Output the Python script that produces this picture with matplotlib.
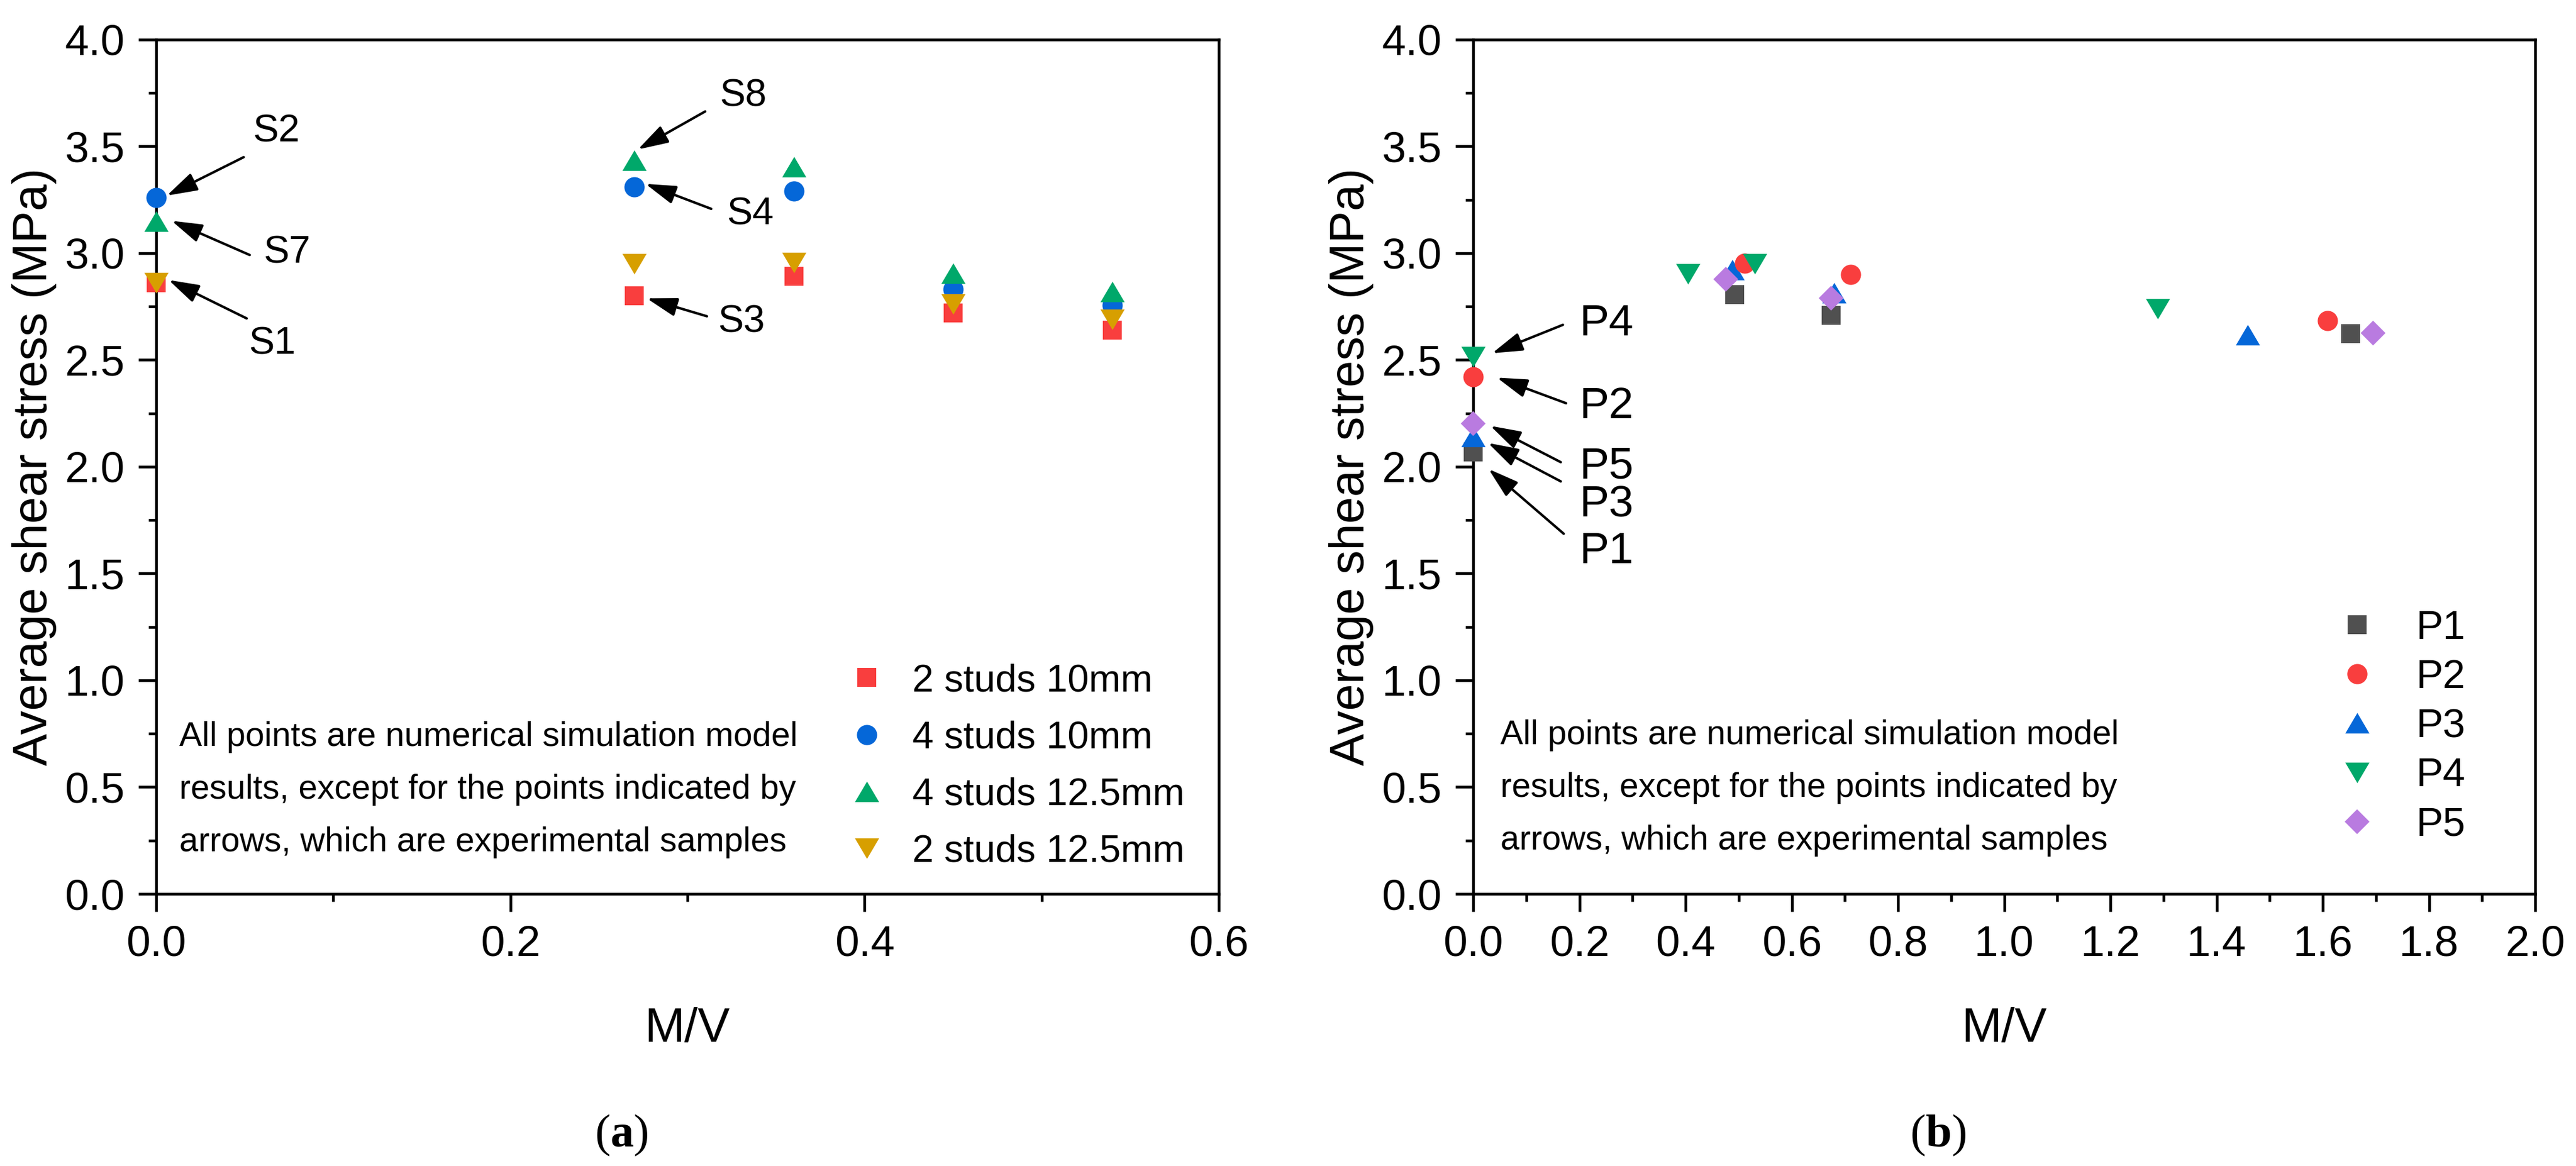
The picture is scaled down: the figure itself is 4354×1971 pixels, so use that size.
import matplotlib
matplotlib.use("Agg")
import matplotlib.pyplot as plt
from matplotlib.path import Path
from matplotlib.ticker import MultipleLocator, FormatStrFormatter

plt.rcParams['font.family'] = ['Liberation Sans', 'DejaVu Sans']
plt.rcParams['mathtext.fontset'] = 'custom'
plt.rcParams['mathtext.rm'] = 'Liberation Serif'
plt.rcParams['mathtext.bf'] = 'Liberation Serif:bold'

# ---------------- data: panel (a) ----------------
mv_a = [0.0, 0.27, 0.36, 0.45, 0.54]
s2_10 = [2.86, 2.80, 2.89, 2.72, 2.64]      # 2 studs 10mm
s4_10 = [3.26, 3.31, 3.29, 2.83, 2.755]     # 4 studs 10mm
s4_125 = [3.15, 3.435, 3.405, 2.905, 2.82]  # 4 studs 12.5mm
s2_125 = [2.86, 2.95, 2.955, 2.76, 2.69]    # 2 studs 12.5mm
labels_a = ['2 studs 10mm', '4 studs 10mm', '4 studs 12.5mm', '2 studs 12.5mm']

# arrows (label, head x, head y, tail x, tail y, text x, text y)
arrows_a = [
    ('S2', 0.006, 3.269, 0.0494, 3.449, 0.0545, 3.569),
    ('S7', 0.0087, 3.151, 0.0528, 2.991, 0.0605, 3.000),
    ('S1', 0.007, 2.874, 0.0511, 2.694, 0.052, 2.574),
    ('S8', 0.272, 3.485, 0.310, 3.663, 0.318, 3.736),
    ('S4', 0.2763, 3.324, 0.3134, 3.207, 0.322, 3.181),
    ('S3', 0.277, 2.788, 0.311, 2.704, 0.317, 2.677),
]

# ---------------- data: panel (b) ----------------
p1_x = [0.0, 0.493, 0.674, 1.652]
p1_y = [2.07, 2.806, 2.709, 2.622]
p2_x = [0.0, 0.511, 0.711, 1.609]
p2_y = [2.42, 2.952, 2.899, 2.683]
p3_x = [0.0, 0.488, 0.680, 1.458]
p3_y = [2.14, 2.921, 2.814, 2.616]
p4_x = [0.0, 0.405, 0.530, 1.289]
p4_y = [2.516, 2.903, 2.950, 2.739]
p5_x = [0.0, 0.476, 0.674, 1.695]
p5_y = [2.202, 2.877, 2.788, 2.625]
labels_b = ['P1', 'P2', 'P3', 'P4', 'P5']

arrows_b = [
    ('P4', 0.0357, 2.531, 0.169, 2.664, 0.2006, 2.669),
    ('P2', 0.0446, 2.417, 0.175, 2.297, 0.2006, 2.281),
    ('P5', 0.0323, 2.191, 0.165, 2.021, 0.2006, 2.000),
    ('P3', 0.0279, 2.111, 0.165, 1.931, 0.2006, 1.819),
    ('P1', 0.029, 1.989, 0.1705, 1.686, 0.2006, 1.601),
]

note = ("All points are numerical simulation model\n"
        "results, except for the points indicated by\n"
        "arrows, which are experimental samples")

# ---------------- style ----------------
RED = '#F93E3E'
BLUE = '#0567D8'
GREEN = '#00A86A'
GOLD = '#D79F00'
GRAY = '#505050'
PURPLE = '#B97BE0'

tri_up = Path([(-1, -0.85), (1, -0.85), (0, 0.85), (-1, -0.85)],
              [Path.MOVETO, Path.LINETO, Path.LINETO, Path.CLOSEPOLY])
tri_dn = Path([(-1, 0.85), (1, 0.85), (0, -0.85), (-1, 0.85)],
              [Path.MOVETO, Path.LINETO, Path.LINETO, Path.CLOSEPOLY])

W, H = 4354, 1971
DPI = 300
fig = plt.figure(figsize=(W / DPI, H / DPI), dpi=DPI)

ax_a = fig.add_axes([264 / W, 1 - 1511 / H, (2060 - 264) / W, (1511 - 66.7) / H])
ax_b = fig.add_axes([2490 / W, 1 - 1511 / H, (4285 - 2490) / W, (1511 - 66.7) / H])

TICK_FS = 17.5
LABEL_FS = 19.5


def style_axes(ax, xmax, xmajor, xminor):
    ax.set_xlim(0, xmax)
    ax.set_ylim(0, 4.0)
    ax.xaxis.set_major_locator(MultipleLocator(xmajor))
    ax.xaxis.set_minor_locator(MultipleLocator(xminor))
    ax.yaxis.set_major_locator(MultipleLocator(0.5))
    ax.yaxis.set_minor_locator(MultipleLocator(0.25))
    ax.xaxis.set_major_formatter(FormatStrFormatter('%.1f'))
    ax.yaxis.set_major_formatter(FormatStrFormatter('%.1f'))
    for s in ax.spines.values():
        s.set_linewidth(1.1)
    ax.tick_params(which='both', direction='out', top=False, right=False,
                   width=1.1, labelsize=TICK_FS)
    ax.tick_params(which='major', length=7.2, pad=5.5)
    ax.tick_params(which='minor', length=3.2)
    ax.set_xlabel('M/V', fontsize=LABEL_FS, labelpad=17)
    ax.set_ylabel('Average shear stress (MPa)', fontsize=LABEL_FS, va='center')
    ax.yaxis.set_label_coords(-0.1147, 0.5)


style_axes(ax_a, 0.6, 0.2, 0.1)
style_axes(ax_b, 2.0, 0.2, 0.1)

mk = dict(linestyle='none', markeredgewidth=0, clip_on=False, zorder=3)

# ---------- panel (a) ----------
ax_a.plot(mv_a, s2_10, marker='s', ms=7.6, color=RED, label=labels_a[0], **mk)
ax_a.plot(mv_a, s4_10, marker='o', ms=8.2, color=BLUE, label=labels_a[1], **mk)
ax_a.plot(mv_a, s4_125, marker=tri_up, ms=9.8, color=GREEN, label=labels_a[2], **mk)
ax_a.plot(mv_a, s2_125, marker=tri_dn, ms=9.8, color=GOLD, label=labels_a[3], **mk)

ax_a.legend(loc='upper left', bbox_to_anchor=(0.651, 0.270), frameon=False,
            fontsize=15.5, handlelength=1.0, handletextpad=0.69,
            labelspacing=0.56, borderpad=0, borderaxespad=0, numpoints=1)

ax_a.text(0.0217, 0.122, note, transform=ax_a.transAxes, fontsize=13.8,
          ha='left', va='center', linespacing=1.84)

arrow_kw = dict(arrowstyle='-|>,head_length=10.5,head_width=3.2',
                mutation_scale=1, lw=1.0, color='black',
                shrinkA=0, shrinkB=0)

for lab, hx, hy, tx, ty, lx, ly in arrows_a:
    ax_a.annotate('', xy=(hx, hy), xytext=(tx, ty), arrowprops=arrow_kw,
                  annotation_clip=False, zorder=4)
    ax_a.text(lx, ly, lab, fontsize=15.6, ha='left', va='center')

# ---------- panel (b) ----------
h1, = ax_b.plot(p1_x, p1_y, marker='s', ms=7.6, color=GRAY, label=labels_b[0], **mk)
h3, = ax_b.plot(p3_x, p3_y, marker=tri_up, ms=9.8, color=BLUE, label=labels_b[2], **mk)
h2, = ax_b.plot(p2_x, p2_y, marker='o', ms=8.2, color=RED, label=labels_b[1], **mk)
h4, = ax_b.plot(p4_x, p4_y, marker=tri_dn, ms=9.8, color=GREEN, label=labels_b[3], **mk)
h5, = ax_b.plot(p5_x, p5_y, marker='D', ms=7.2, color=PURPLE, label=labels_b[4], **mk)

ax_b.legend(handles=[h1, h2, h3, h4, h5], loc='upper left',
            bbox_to_anchor=(0.8134, 0.333), frameon=False,
            fontsize=16.4, handlelength=1.0, handletextpad=0.95,
            labelspacing=0.28, borderpad=0, borderaxespad=0, numpoints=1)

ax_b.text(0.0256, 0.124, note, transform=ax_b.transAxes, fontsize=13.8,
          ha='left', va='center', linespacing=1.84)

for lab, hx, hy, tx, ty, lx, ly in arrows_b:
    ax_b.annotate('', xy=(hx, hy), xytext=(tx, ty), arrowprops=arrow_kw,
                  annotation_clip=False, zorder=4)
    ax_b.text(lx, ly, lab, fontsize=18, ha='left', va='center')

# panel captions
fig.text(1050 / W, 1 - 1919 / H, r'$\mathrm{(}\mathbf{a}\mathrm{)}$',
         fontsize=19, ha='center', va='center')
fig.text(3276 / W, 1 - 1919 / H, r'$\mathrm{(}\mathbf{b}\mathrm{)}$',
         fontsize=19, ha='center', va='center')

fig.savefig('out.png', dpi=DPI, facecolor='white')
